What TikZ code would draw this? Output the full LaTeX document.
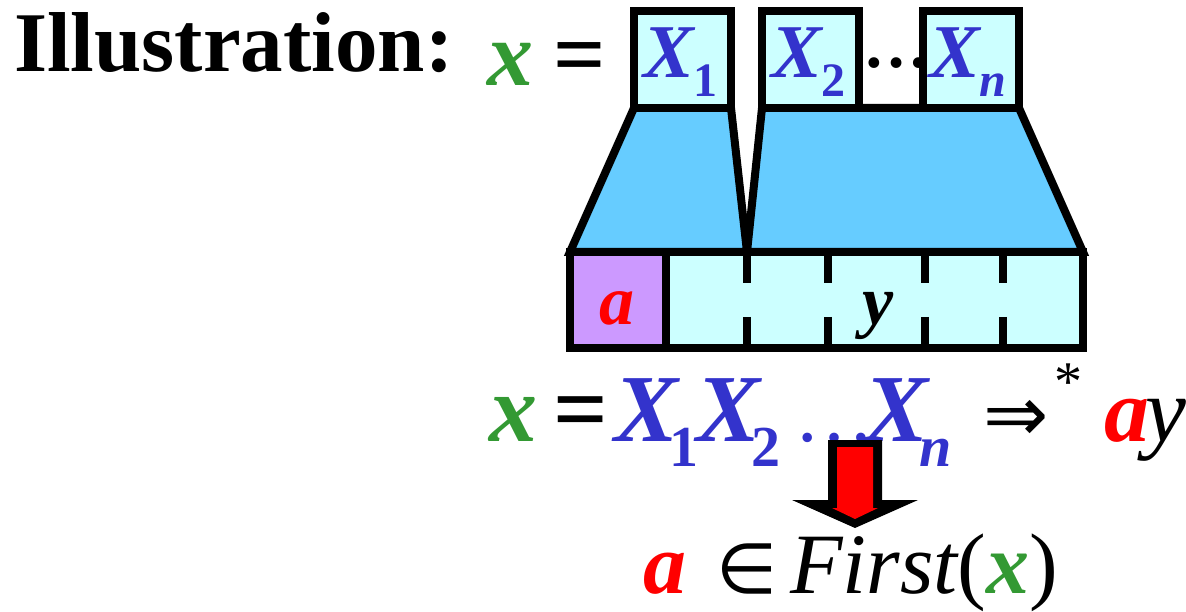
\documentclass[tikz,border=0pt]{standalone}
\usepackage{fontspec}
\setmainfont{Liberation Serif}
\newfontfamily\symf{DejaVu Sans}
\definecolor{tgreen}{RGB}{51,153,51}
\definecolor{tblue}{RGB}{51,51,204}
\definecolor{tred}{RGB}{255,0,0}
\definecolor{boxc}{RGB}{204,255,255}
\definecolor{trapc}{RGB}{102,204,255}
\definecolor{cellc}{RGB}{204,153,255}
\newcommand{\fs}[1]{\fontsize{#1}{#1}\selectfont}
\newcommand{\bigX}[1]{X\kern-9pt\raisebox{-25pt}{\fs{58}#1}}
\tikzset{
  lbl/.style={inner sep=0pt, anchor=base west},
  clbl/.style={inner sep=0pt, anchor=base},
  outl/.style={draw=black, line width=8pt, line join=miter},
}
\begin{document}
\begin{tikzpicture}[x=1pt,y=-1pt]
\useasboundingbox (0,0) rectangle (1186,612);
% trapezoids
\path[outl, fill=trapc] (634,108) -- (731,108) -- (747,252) -- (570,252) -- cycle;
\path[outl, fill=trapc] (762,108) -- (1019,108) -- (1083,252) -- (747,252) -- cycle;
% strip
\path[outl, fill=cellc] (570,252) rectangle (666,348);
\path[outl, fill=boxc] (666,252) rectangle (1083,348);
\foreach \x in {747,828,925,1003} {
  \draw[line width=8pt] (\x,252) -- (\x,283);
  \draw[line width=8pt] (\x,317) -- (\x,348);
}
\node[clbl] (ca) at (617,325) {\fs{70}\bfseries\itshape\color{tred}a};
\node[clbl] (cy) at (878,325) {\fs{70}\bfseries\itshape y};
% top boxes
\path[outl, fill=boxc] (634,11) rectangle (731,108);
\path[outl, fill=boxc] (762,11) rectangle (859,108);
\path[outl, fill=boxc] (923,11) rectangle (1019,108);
\node[lbl] (b1) at (643,78) {\fs{76}\bfseries\itshape\color{tblue}X\raisebox{-19pt}{\fs{48}\upshape 1}};
\node[lbl] (b2) at (771,78) {\fs{76}\bfseries\itshape\color{tblue}X\raisebox{-19pt}{\fs{48}\upshape 2}};
\node[lbl] (bn) at (929,78) {\fs{76}\bfseries\itshape\color{tblue}X\raisebox{-19pt}{\fs{48}n}};
\node[lbl] (dots) at (863,68) {\fs{66}\bfseries …};
% heading
\node[lbl] (ill) at (14,72) {\fs{85}\bfseries Illustration:};
\node[lbl] (tx) at (487,86) {\fs{92}\bfseries\itshape\color{tgreen}x};
\node[lbl] (teq) at (553,86) {\fs{92}\bfseries =};
% equation
\node[lbl] (ex) at (489,441) {\fs{96}\bfseries\itshape\color{tgreen}x};
\node[lbl] (eeq) at (553,441) {\fs{96}\bfseries =};
\node[lbl] (eXs) at (614,441) {\fs{96}\bfseries\itshape\color{tblue}\bigX{\upshape 1}\kern-2pt\bigX{\upshape 2}\kern14pt{\mdseries\upshape\fs{80}…}\kern-10pt\bigX{n}};
\node[lbl] (earr) at (983,441) {\fs{78}\symf ⇒};
\node[lbl] (estar) at (1054,400) {\fs{56}*};
\node[lbl] (ea) at (1104,441) {\fs{90}\bfseries\itshape\color{tred}a};
\node[lbl] (ey) at (1145,441) {\fs{92}\itshape y};
% arrow
\fill[black] (828,440) -- (882,440) -- (882,500) -- (918,500) -- (855,528) -- (792,500) -- (828,500) -- cycle;
\fill[tred] (837,447) -- (873,447) -- (873,508) -- (878,508) -- (855,519) -- (832,508) -- (837,508) -- cycle;
% result
\node[lbl] (ra) at (643,593) {\fs{86}\bfseries\itshape\color{tred}a};
\node[lbl] (rin) at (716,593) {\fs{70}\symf ∈};
\node[lbl] (rfirst) at (790,593) {\fs{86}\itshape First\upshape(\bfseries\itshape\color{tgreen}x\mdseries\upshape\color{black})};
\end{tikzpicture}
\end{document}
